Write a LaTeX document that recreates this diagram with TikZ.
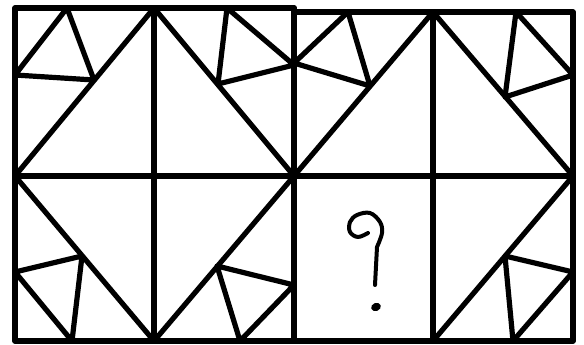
\documentclass[tikz,border=0pt]{standalone}
\usetikzlibrary{positioning}
\begin{document}
\begin{tikzpicture}[x=1pt, y=-1pt,
        frame/.style = {line width=5.6pt, line cap=round, line join=round},
        piece/.style = {line width=5.2pt, line cap=round, line join=round},
        qmark/.style = {line width=4pt, line cap=round, line join=round}
    ]
        \useasboundingbox (0,0) rectangle (584,345);

        % Outer frame and grid
        \draw [frame] (294,12) -- (573,12) -- (573,341) -- (15,341) -- (15,8) -- (294,8);
        \draw [frame] (15,176) -- (573,176);
        \foreach \x/\t in {154/8,294/8,433/12} \draw [frame] (\x,\t) -- (\x,341);

        % Row 1 (Top): diagonals with small triangles
        \draw [piece] (15,176) -- (154,8);
        \draw [piece] (67,8) -- (15,75) -- (94,80) -- cycle;
        \draw [piece] (154,8) -- (294,176);
        \draw [piece] (227,8) -- (294,65) -- (218,84) -- cycle;
        \draw [piece] (294,176) -- (433,12);
        \draw [piece] (348,12) -- (294,63) -- (370,86) -- cycle;
        \draw [piece] (433,12) -- (573,176);
        \draw [piece] (516,12) -- (573,75) -- (505,97) -- cycle;

        % Row 2 (Bottom): diagonals with small triangles
        \draw [piece] (15,176) -- (154,341);
        \draw [piece] (15,272) -- (82,256) -- (72,341) -- cycle;
        \draw [piece] (154,341) -- (294,176);
        \draw [piece] (217,266) -- (294,285) -- (240,341) -- cycle;
        \draw [piece] (433,341) -- (573,176);
        \draw [piece] (505,256) -- (573,272) -- (513,341) -- cycle;

        % Missing cell
        \draw [qmark] plot[smooth, tension=0.6] coordinates {(368,233) (358,237) (350,232) (350,222) (357,215) (370,213) (380,222) (382,233) (377,247)} -- (375,285);
        \fill [rotate around={20:(376,307)}] (376,307) ellipse [x radius=5pt, y radius=4pt];

    \end{tikzpicture}
\end{document}
